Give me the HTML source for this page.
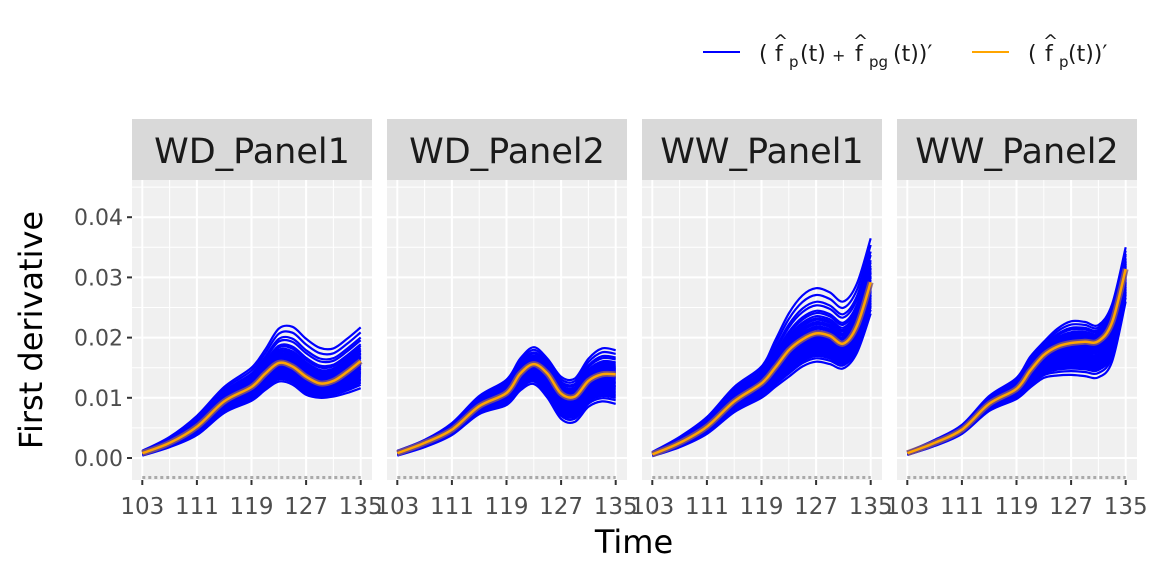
<!DOCTYPE html>
<html><head><meta charset="utf-8"><style>
html,body{margin:0;padding:0;background:#fff;}
svg{display:block;font-family:"DejaVu Sans","Liberation Sans",sans-serif;}
</style></head><body>
<svg id="chart" width="1152" height="576" viewBox="0 0 1152 576">
<g id="legend">
  <g>
    <line x1="703" y1="52" x2="740" y2="52" stroke="#0000ff" stroke-width="2"/>
    <text x="759" y="61" font-size="22" fill="#1a1a1a">(</text>
    <text x="775" y="61" font-size="22" fill="#1a1a1a">f</text>
    <text x="773" y="47" font-size="18" fill="#1a1a1a">^</text>
    <text x="789" y="67" font-size="15" fill="#1a1a1a">p</text>
    <text x="800" y="61" font-size="22" fill="#1a1a1a">(t)</text>
    <text x="832" y="61" font-size="16" fill="#1a1a1a">+</text>
    <text x="855" y="61" font-size="22" fill="#1a1a1a">f</text>
    <text x="853" y="47" font-size="18" fill="#1a1a1a">^</text>
    <text x="869" y="67" font-size="15" fill="#1a1a1a">pg</text>
    <text x="893" y="61" font-size="22" fill="#1a1a1a">(t))′</text>
  </g>
  <g>
    <line x1="972" y1="52" x2="1009" y2="52" stroke="#ffa500" stroke-width="2"/>
    <text x="1028" y="61" font-size="22" fill="#1a1a1a">(</text>
    <text x="1045" y="61" font-size="22" fill="#1a1a1a">f</text>
    <text x="1043" y="47" font-size="18" fill="#1a1a1a">^</text>
    <text x="1059" y="67" font-size="15" fill="#1a1a1a">p</text>
    <text x="1068" y="61" font-size="22" fill="#1a1a1a">(t))′</text>
  </g>
</g>
<text x="42" y="330" font-size="32" fill="#000" text-anchor="middle" transform="rotate(-90 42 330)">First derivative</text>
<text x="634" y="553" font-size="32" fill="#000" text-anchor="middle">Time</text>
<g id="panels"></g>
</svg>
<script>
const times = [103,107,111,115,119,121,123,125,127,129,131,133,135];
const panelNames = ["WD_Panel1","WD_Panel2","WW_Panel1","WW_Panel2"];
const xTicks = [103,111,119,127,135];
const yTicks = [0,0.01,0.02,0.03,0.04];
const yTickLabels = ["0.00","0.01","0.02","0.03","0.04"];
const meanWD1 = [.0008,.0025,.0052,.0094,.0118,.0140,.0158,.0152,.0135,.0124,.0128,.0143,.0161];
const upperWD1 = [.0012,.0035,.0070,.0118,.0150,.0180,.0215,.0218,.0198,.0183,.0182,.0198,.0217];
const lowerWD1 = [.0004,.0018,.0038,.0075,.0095,.0113,.0127,.0122,.0105,.0100,.0102,.0108,.0116];
const meanWD2 = [.0008,.0025,.0047,.0086,.0108,.0140,.0156,.0140,.0107,.0102,.0128,.0139,.0139];
const upperWD2 = [.0012,.0030,.0058,.0103,.0130,.0165,.0184,.0165,.0135,.0132,.0165,.0182,.0179];
const lowerWD2 = [.0004,.0018,.0038,.0073,.0088,.0112,.0123,.0100,.0065,.0060,.0085,.0094,.0090];
const meanWW1 = [.0006,.0025,.0052,.0094,.0124,.0150,.0179,.0197,.0207,.0203,.0190,.0220,.0292];
const upperWW1 = [.0010,.0035,.0068,.0118,.0152,.0195,.0240,.0270,.0282,.0275,.0260,.0290,.0365];
const lowerWW1 = [.0003,.0018,.0040,.0076,.0100,.0118,.0135,.0152,.0160,.0156,.0149,.0175,.0240];
const meanWW2 = [.0008,.0025,.0047,.0090,.0115,.0145,.0171,.0185,.0191,.0193,.0194,.0225,.0314];
const upperWW2 = [.0010,.0030,.0055,.0103,.0133,.0168,.0193,.0215,.0227,.0226,.0221,.0255,.0350];
const lowerWW2 = [.0005,.0020,.0040,.0078,.0098,.0117,.0133,.0137,.0138,.0136,.0134,.0160,.0260];
const curveWeights = [1,0.85,0.7,0.62,0.5,0.45,0.38,0.3,0.25,0.2,0.15,0.1,0.05,0,-0.05,-0.1,-0.15,-0.2,-0.25,-0.3,-0.35,-0.4,-0.45,-0.5,-0.55,-0.6,-0.65,-0.7,-0.75,-0.8,-0.88,-1,0.12,0.33,-0.28,-0.42,0.22,-0.12];
const means=[meanWD1,meanWD2,meanWW1,meanWW2], uppers=[upperWD1,upperWD2,upperWW1,upperWW2], lowers=[lowerWD1,lowerWD2,lowerWW1,lowerWW2];

const NS="http://www.w3.org/2000/svg";
const panelX=[132,387,642,897], PW=240, PT=180, PB=480;
function mk(tag,attrs,parent){const e=document.createElementNS(NS,tag);for(const k in attrs)e.setAttribute(k,attrs[k]);parent.appendChild(e);return e;}
function yS(v){return 458-v*6020;}
function path(pts){let d="M"+pts[0][0].toFixed(1)+","+pts[0][1].toFixed(1);
 for(let i=0;i<pts.length-1;i++){const p0=pts[Math.max(0,i-1)],p1=pts[i],p2=pts[i+1],p3=pts[Math.min(pts.length-1,i+2)];
 d+=" C"+(p1[0]+(p2[0]-p0[0])/6).toFixed(1)+","+(p1[1]+(p2[1]-p0[1])/6).toFixed(1)+" "+(p2[0]-(p3[0]-p1[0])/6).toFixed(1)+","+(p2[1]-(p3[1]-p1[1])/6).toFixed(1)+" "+p2[0].toFixed(1)+","+p2[1].toFixed(1);}
 return d;}
const root=document.getElementById("panels");
panelNames.forEach((name,pi)=>{
 const x0=panelX[pi];
 const xS=t=>x0+10.3+(t-103)*6.825;
 const g=mk("g",{},root);
 
 
 const strip=mk("rect",{x:x0,y:119,width:PW,height:61,fill:"#d9d9d9"},g);
 
 
 const st=mk("text",{x:x0+PW/2,y:163,"font-size":35,fill:"#1a1a1a","text-anchor":"middle"},g);st.textContent=name;
 
 
 const bg=mk("rect",{x:x0,y:PT,width:PW,height:PB-PT,fill:"#f0f0f0"},g);
 
 
 [107,115,123,131].forEach(t=>mk("line",{x1:xS(t),x2:xS(t),y1:PT,y2:PB,stroke:"#fff","stroke-width":1},g));
 [-0.005,0.005,0.015,0.025,0.035,0.045].forEach(v=>mk("line",{x1:x0,x2:x0+PW,y1:yS(v),y2:yS(v),stroke:"#fff","stroke-width":1},g));
 xTicks.forEach(t=>mk("line",{x1:xS(t),x2:xS(t),y1:PT,y2:PB,stroke:"#fff","stroke-width":2},g));
 yTicks.forEach(v=>mk("line",{x1:x0,x2:x0+PW,y1:yS(v),y2:yS(v),stroke:"#fff","stroke-width":2},g));
 mk("line",{x1:xS(103),x2:xS(135),y1:477.5,y2:477.5,stroke:"#aaa","stroke-width":3,"stroke-dasharray":"3,3"},g);
 const m=means[pi],u=uppers[pi],l=lowers[pi];
 curveWeights.forEach((w,ci)=>{
  const pts=times.map((t,i)=>[xS(t),yS(w>=0?m[i]+w*(u[i]-m[i]):m[i]+(-w)*(l[i]-m[i]))]);
  const c=mk("path",{d:path(pts),fill:"none",stroke:"#0000ff","stroke-width":2.2},g);
  
  
 });
 const band=mk("path",{d:path(times.map((t,i)=>[xS(t),yS(m[i])])),fill:"none",stroke:"#8a5a6a","stroke-width":6,opacity:0.8},g);
 
 
 const mc=mk("path",{d:path(times.map((t,i)=>[xS(t),yS(m[i])])),fill:"none",stroke:"#ffa500","stroke-width":2.5},g);
 
 
 xTicks.forEach(t=>{
  mk("line",{x1:xS(t),x2:xS(t),y1:PB,y2:PB+5,stroke:"#333","stroke-width":2},g);
  const tl=mk("text",{x:xS(t),y:514,"font-size":23,fill:"#4d4d4d","text-anchor":"middle"},g);tl.textContent=t;
  
  
 });
 if(pi===0){
  yTicks.forEach((v,i)=>{
   mk("line",{x1:x0-5,x2:x0,y1:yS(v),y2:yS(v),stroke:"#333","stroke-width":2},g);
   const tl=mk("text",{x:x0-9,y:yS(v)+8,"font-size":22,fill:"#4d4d4d","text-anchor":"end"},g);tl.textContent=yTickLabels[i];
   
   
  });
 }
});
</script>
</body></html>
